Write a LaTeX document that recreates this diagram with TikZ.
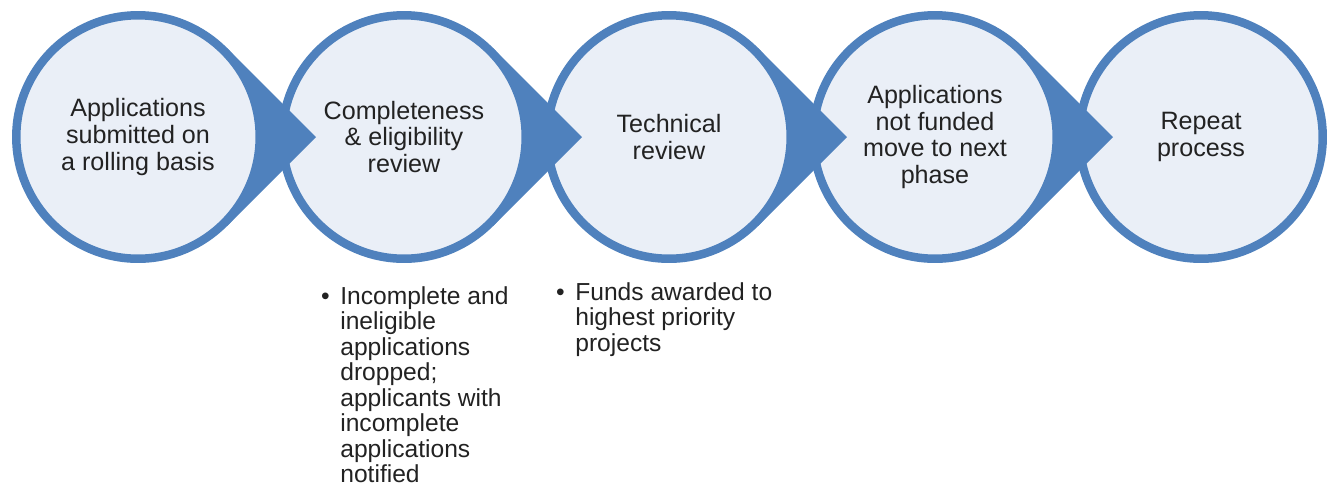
\documentclass[tikz,border=0pt]{standalone}
\usepackage{fontspec}
\setmainfont{Liberation Sans}
\definecolor{stageblue}{RGB}{79,129,189}
\definecolor{stagefill}{RGB}{234,239,247}
\definecolor{textgray}{RGB}{34,34,34}

\begin{document}
\begin{tikzpicture}[
    x=0.02cm, y=-0.02cm,
    stage/.style={circle, draw=stageblue, line width=0.17cm, fill=stagefill,
                  minimum size=4.87cm, inner sep=0pt, align=center,
                  text=textgray, font=\fontsize{14.3}{15.1}\selectfont},
    pointer/.style={fill=stageblue},
    note/.style={anchor=north west, inner sep=0pt, align=left, text=textgray,
                 font=\fontsize{14}{14.5}\selectfont}
]
\useasboundingbox (0,0) rectangle (1330,485);

% Circle centres
\coordinate (p1) at (138,137);
\coordinate (p2) at (404,137);
\coordinate (p3) at (669,137);
\coordinate (p4) at (935,137);
\coordinate (p5) at (1201,137);

% Drawn right to left: each pointer lies over the next circle
% and under the circle it leaves
\node[stage] (repeat) at (p5) {Repeat\\process};

\fill[pointer] (p4) -- +(89,-89) -- +(178,0) -- +(89,89) -- cycle;
\node[stage] (nextphase) at (p4) {Applications\\not funded\\move to next\\phase};

\fill[pointer] (p3) -- +(89,-89) -- +(178,0) -- +(89,89) -- cycle;
\node[stage] (technical) at (p3) {Technical\\review};

\fill[pointer] (p2) -- +(89,-89) -- +(178,0) -- +(89,89) -- cycle;
\node[stage] (eligible) at (p2) {Completeness\\\& eligibility\\review};

\fill[pointer] (p1) -- +(89,-89) -- +(178,0) -- +(89,89) -- cycle;
\node[stage] (submitted) at (p1) {Applications\\submitted on\\a rolling basis};

% Bullet notes under the review stages
\node[note] (dropped) at (340,286)
    {\llap{\textbullet\hspace{6pt}}Incomplete and\\ineligible\\applications\\dropped;\\applicants with\\incomplete\\applications\\notified};
\node[note] (awarded) at (575,282)
    {\llap{\textbullet\hspace{6pt}}Funds awarded to\\highest priority\\projects};

\end{tikzpicture}
\end{document}
